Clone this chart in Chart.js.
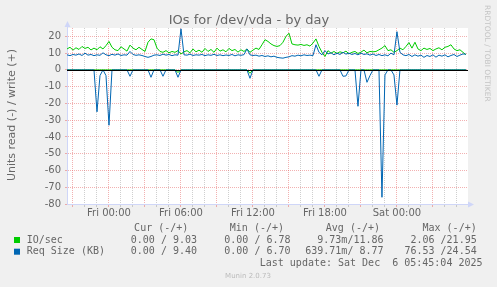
<!DOCTYPE html>
<html>
<head>
<meta charset="utf-8">
<script src="https://cdn.jsdelivr.net/npm/chart.js@4"></script>
<style>
  body { margin: 0; background: #F0F0F0; }
  canvas { display: block; }
</style>
</head>
<body>
<canvas id="chart" width="497" height="287"></canvas>
<script>
// samples every 15 minutes, first one at Thu 20:30 (hour -3.5 relative to Fri 00:00)
const startHour = -3.5;
const stepHours = 0.25;

// IO/sec write (+)
const ioWrite = [
  12.5, 13.5, 11.8, 13.2, 12.2, 14.0, 12.8, 13.5, 11.9, 13.0,
  12.0, 13.8, 12.5, 14.5, 17.0, 13.5, 12.0, 11.5, 13.8, 12.5,
  11.2, 14.8, 13.0, 12.0, 13.5, 12.2, 11.0, 16.5, 18.5, 18.0,
  13.0, 11.0, 10.5, 11.5, 10.2, 11.0, 10.5, 11.5, 9.5, 10.8,
  11.5, 10.2, 12.5, 10.8, 11.8, 10.5, 12.8, 11.0, 12.2, 10.5,
  13.0, 11.2, 12.0, 10.8, 12.8, 11.5, 12.2, 10.6, 12.0, 11.0,
  12.5, 10.5, 11.8, 13.0, 12.2, 15.0, 18.0, 17.0, 15.5, 14.5,
  14.0, 14.5, 16.5, 20.0, 21.9, 15.5, 15.0, 14.8, 15.2, 14.6,
  15.0, 14.2, 16.0, 18.5, 14.0, 10.5, 8.0, 11.5, 10.0, 11.0,
  9.8, 10.8, 10.2, 11.2, 9.6, 10.5, 11.0, 9.8, 10.6, 11.8,
  10.2, 11.0, 10.8, 11.0, 12.0, 13.0, 14.5, 11.5, 12.0, 10.5,
  11.5, 13.0, 12.0, 14.0, 16.3, 13.0, 16.5, 12.5, 11.5, 13.0,
  12.2, 12.8, 11.5, 12.5, 13.2, 12.0, 13.5, 14.0, 15.0, 12.5,
  11.5, 12.0, 10.5, 9.03
];

// IO/sec read (-), shown below zero
const ioRead = [
  0, 0, 0, 0, 0, 0, 0, 0, 0, 0,
  0, 0, 0, 0, 0, 0, 0, 0, 0, 0,
  0, 0, 0, 0, 0, 0, 0, 0, 0, 0,
  0, 0, 0, 0, 0, 0, 0, -1.5, 0, 0,
  0, 0, 0, 0, 0, 0, 0, 0, 0, 0,
  0, 0, 0, 0, 0, 0, 0, 0, 0, 0,
  0, -2.0, 0, 0, 0, 0, 0, 0, 0, 0,
  0, 0, 0, 0, 0, 0, 0, 0, 0, 0,
  0, 0, 0, 0, 0, 0, 0, 0, 0, 0,
  0, 0, 0, 0, 0, 0, 0, 0, 0, 0,
  0, 0, 0, 0, 0, 0, 0, 0, 0, 0,
  0, 0, 0, 0, 0, 0, 0, 0, 0, 0,
  0, 0, 0, 0, 0, 0, 0, 0, 0, 0,
  0, 0, 0, 0
];

// Req Size (KB) write (+)
const reqWrite = [
  9.0, 8.5, 9.2, 8.8, 9.5, 8.6, 10.0, 8.8, 9.2, 8.5,
  9.0, 8.7, 10.2, 9.0, 8.5, 9.3, 8.8, 9.5, 8.6, 9.0,
  8.8, 11.0, 9.2, 8.7, 9.0, 8.6, 8.0, 7.5, 8.0, 8.8,
  9.0, 8.6, 9.4, 8.8, 9.2, 8.5, 9.0, 8.8, 24.5, 9.0,
  8.8, 9.4, 8.6, 9.0, 8.8, 9.2, 8.5, 9.0, 8.7, 9.3,
  8.6, 9.0, 8.5, 8.9, 8.6, 9.2, 8.4, 9.0, 8.7, 9.1,
  12.5, 9.0, 8.6, 8.8, 8.2, 8.6, 8.0, 8.4, 7.8, 8.2,
  7.5, 7.2, 7.0, 7.5, 7.8, 8.5, 8.2, 8.8, 8.4, 9.0,
  8.6, 8.8, 8.5, 15.0, 10.5, 9.0, 11.5, 9.5, 10.2, 9.0,
  10.0, 9.2, 10.5, 9.4, 10.0, 9.2, 9.8, 9.0, 10.0, 9.2,
  9.6, 8.8, 9.5, 8.6, 9.2, 8.5, 9.0, 8.4, 10.0, 9.0,
  22.8, 10.5, 9.0, 8.5, 9.2, 8.0, 9.0, 8.2, 8.8, 7.5,
  8.6, 8.0, 9.0, 7.6, 8.8, 8.2, 9.0, 7.8, 8.6, 9.2,
  8.0, 8.8, 9.5, 9.4
];

// Req Size (KB) read (-), shown below zero
const reqRead = [
  0, 0, 0, 0, 0, 0, 0, 0, 0, 0,
  -25, -3.4, 0, -3.4, -33, 0, 0, 0, 0, 0,
  0, -3.8, 0, 0, 0, 0, 0, 0, -4.4, 0,
  0, 0, -3.8, 0, 0, 0, 0, -4.4, 0, 0,
  0, 0, 0, 0, 0, 0, 0, 0, 0, 0,
  0, 0, 0, 0, 0, 0, 0, 0, 0, 0,
  0, -5, 0, 0, 0, 0, 0, 0, 0, 0,
  0, 0, 0, 0, 0, 0, 0, 0, 0, 0,
  0, 0, 0, 0, -3.8, 0, 0, 0, 0, 0,
  0, 0, -3.8, -3.6, 0, 0, 0, -21.7, 0, 0,
  -7.4, -3.4, 0, 0, 0, -76, -3, 0, 0, -3,
  -21, 0, 0, 0, 0, 0, 0, 0, 0, 0,
  0, 0, 0, 0, 0, 0, 0, 0, 0, 0,
  0, 0, 0, 0
];

const tickHours = [0, 6, 12, 18, 24];
const tickNames = ['Fri 00:00', 'Fri 06:00', 'Fri 12:00', 'Fri 18:00', 'Sat 00:00'];

const legendNames = ['IO/sec', 'Req Size (KB)'];
const legendColors = ['#00CC00', '#0066B3'];
const curText = ['0.00 / 9.03', '0.00 / 9.40'];
const minText = ['0.00 / 6.78', '0.00 / 6.70'];
const avgText = ['9.73m/11.86', '639.71m/ 8.77'];
const maxText = ['2.06 /21.95', '76.53 /24.54'];
const lastUpdate = 'Last update: Sat Dec  6 05:45:04 2025';

const toPoints = arr => arr.map((v, i) => ({ x: startHour + i * stepHours, y: v }));

const FONT = '#666666';
const AXIS = '#CFD6F8';
const MAJOR = 'rgba(230,100,100,0.5)';
const MINOR = 'rgba(160,160,160,0.5)';

const muninDecor = {
  id: 'muninDecor',
  beforeDraw(chart) {
    const { ctx, chartArea: a } = chart;
    ctx.save();
    ctx.fillStyle = '#F0F0F0';
    ctx.fillRect(0, 0, chart.width, chart.height);
    ctx.fillStyle = '#FFFFFF';
    ctx.fillRect(a.left, a.top, a.right - a.left, a.bottom - a.top);
    ctx.restore();
  },
  afterDatasetsDraw(chart) {
    const { ctx, chartArea: a } = chart;
    const y0 = Math.round(chart.scales.y.getPixelForValue(0)) + 0.5;
    ctx.save();
    ctx.strokeStyle = '#000000';
    ctx.lineWidth = 1;
    ctx.beginPath();
    ctx.moveTo(a.left, y0);
    ctx.lineTo(a.right, y0);
    ctx.stroke();
    ctx.restore();
  },
  afterDraw(chart) {
    const { ctx, chartArea: a } = chart;
    ctx.save();

    // axis arrows
    ctx.fillStyle = AXIS;
    ctx.strokeStyle = AXIS;
    ctx.lineWidth = 1;
    ctx.beginPath();
    ctx.moveTo(a.left + 0.5, a.top);
    ctx.lineTo(a.left + 0.5, a.top - 3);
    ctx.stroke();
    ctx.beginPath();
    ctx.moveTo(a.left + 0.5, a.top - 7);
    ctx.lineTo(a.left - 2.5, a.top - 1);
    ctx.lineTo(a.left + 3.5, a.top - 1);
    ctx.closePath();
    ctx.fill();
    ctx.beginPath();
    ctx.moveTo(a.right + 6, a.bottom + 0.5);
    ctx.lineTo(a.right, a.bottom - 2.5);
    ctx.lineTo(a.right, a.bottom + 3.5);
    ctx.closePath();
    ctx.fill();

    // title
    ctx.fillStyle = FONT;
    ctx.font = '13px "DejaVu Sans"';
    ctx.textAlign = 'center';
    ctx.textBaseline = 'alphabetic';
    ctx.fillText('IOs for /dev/vda - by day', 249, 24);

    // vertical axis title
    ctx.save();
    ctx.translate(12, 115);
    ctx.rotate(-Math.PI / 2);
    ctx.font = '11px "DejaVu Sans"';
    ctx.textBaseline = 'middle';
    ctx.fillText('Units read (-) / write (+)', 0, 0);
    ctx.restore();

    // rrdtool credit
    ctx.save();
    ctx.translate(487, 5);
    ctx.rotate(Math.PI / 2);
    ctx.font = '7.5px "DejaVu Sans"';
    ctx.fillStyle = '#C4C4C4';
    ctx.textAlign = 'left';
    ctx.textBaseline = 'middle';
    ctx.fillText('RRDTOOL / TOBI OETIKER', 0, 0);
    ctx.restore();

    // legend
    ctx.font = '10px "DejaVu Sans Mono"';
    ctx.textBaseline = 'middle';
    ctx.fillStyle = FONT;
    ctx.textAlign = 'right';
    const cols = [197, 290.5, 383.5, 476.7];
    const heads = ['Cur (-/+)', 'Min (-/+)', 'Avg (-/+)', 'Max (-/+)'];
    const headRight = [188.3, 284, 380, 476.7];
    heads.forEach((h, i) => ctx.fillText(h, headRight[i], 228));
    const rowsY = [240, 251.7];
    legendNames.forEach((name, r) => {
      const y = rowsY[r];
      ctx.fillStyle = legendColors[r];
      ctx.fillRect(14, y - 3, 6, 6);
      ctx.fillStyle = FONT;
      ctx.textAlign = 'left';
      ctx.fillText(name, 26.7, y);
      ctx.textAlign = 'right';
      ctx.fillText(curText[r], cols[0], y);
      ctx.fillText(minText[r], cols[1], y);
      ctx.fillText(avgText[r], cols[2], y);
      ctx.fillText(maxText[r], cols[3], y);
    });
    ctx.fillText(lastUpdate, 482.5, 263.3);

    ctx.font = '7px "DejaVu Sans"';
    ctx.fillStyle = '#BBBBBB';
    ctx.textAlign = 'center';
    ctx.fillText('Munin 2.0.73', 248, 276);
    ctx.restore();
  }
};

const lineStyle = color => ({
  borderColor: color,
  borderWidth: 1,
  pointRadius: 0,
  fill: false,
  tension: 0
});

new Chart(document.getElementById('chart'), {
  type: 'line',
  data: {
    datasets: [
      { label: 'Req Size write', data: toPoints(reqWrite), ...lineStyle('#0066B3') },
      { label: 'Req Size read', data: toPoints(reqRead), ...lineStyle('#0066B3') },
      { label: 'IO/sec write', data: toPoints(ioWrite), ...lineStyle('#00CC00') },
      { label: 'IO/sec read', data: toPoints(ioRead), ...lineStyle('#00CC00') }
    ]
  },
  options: {
    responsive: false,
    animation: false,
    events: [],
    layout: { padding: { top: 28, right: 29, bottom: 63, left: 0 } },
    plugins: { legend: { display: false }, tooltip: { enabled: false } },
    scales: {
      x: {
        type: 'linear',
        min: -3.5,
        max: 29.92,
        afterFit: s => { s.height = 20; },
        border: { color: AXIS, width: 1, dash: [1, 1] },
        grid: {
          color: c => (((c.tick.value % 3) + 3) % 3 === 0 ? MAJOR : MINOR),
          tickColor: c => (((c.tick.value % 3) + 3) % 3 === 0 ? MAJOR : MINOR),
          tickLength: 3
        },
        ticks: {
          stepSize: 1,
          includeBounds: false,
          autoSkip: false,
          maxRotation: 0,
          padding: 0,
          color: FONT,
          font: { family: 'DejaVu Sans', size: 10 },
          callback: v => {
            const k = tickHours.indexOf(v);
            return k >= 0 ? tickNames[k] : '';
          }
        }
      },
      y: {
        min: -80,
        max: 25,
        afterFit: s => { s.width = 67; },
        border: { color: AXIS, width: 1, dash: [1, 1] },
        grid: {
          color: c => (c.tick.value % 10 === 0 ? MAJOR : MINOR),
          tickColor: c => (c.tick.value % 10 === 0 ? MAJOR : MINOR),
          tickLength: 2
        },
        ticks: {
          stepSize: 5,
          padding: 4,
          color: FONT,
          font: { family: 'DejaVu Sans', size: 10 },
          callback: v => (v % 10 === 0 ? String(v) : '')
        }
      }
    }
  },
  plugins: [muninDecor]
});
</script>
</body>
</html>
